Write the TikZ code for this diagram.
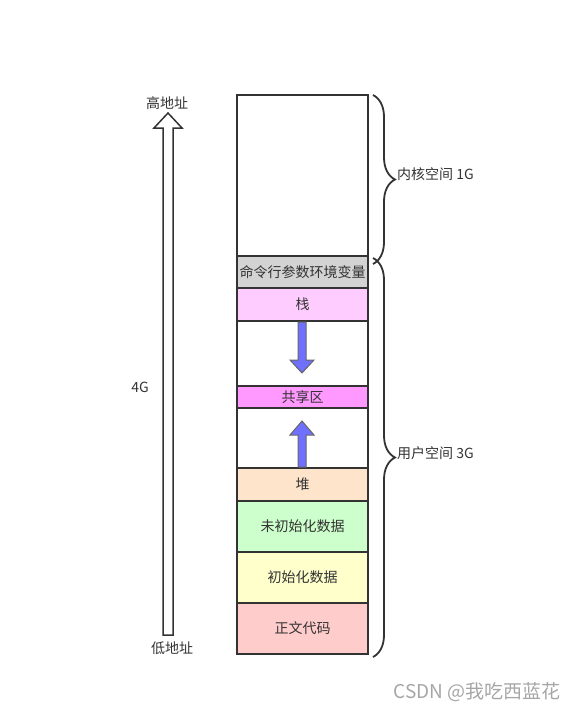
\documentclass[tikz,border=0pt]{standalone}
\usepackage{fontspec}
\setmainfont{Noto Sans CJK SC}
\usetikzlibrary{decorations.pathreplacing}

\definecolor{envgray}{HTML}{D3D3D3}
\definecolor{stackpink}{HTML}{FFCCFF}
\definecolor{sharepink}{HTML}{FF99FF}
\definecolor{heappeach}{HTML}{FFE4CC}
\definecolor{bssgreen}{HTML}{CCFFCC}
\definecolor{datayellow}{HTML}{FFFFCC}
\definecolor{textred}{HTML}{FFCCCC}
\definecolor{growblue}{HTML}{7070FF}
\definecolor{edgegray}{HTML}{333333}

\begin{document}
\begin{tikzpicture}[x=1pt,y=-1pt,font=\fontsize{14}{16}\selectfont,
  					seg/.style={draw=edgegray, line width=1.5, anchor=north, minimum width=131, inner sep=0, outer sep=0, text=edgegray},
  					growarrow/.style={draw=gray!80!black, line width=1, fill=growblue},
  					spanbrace/.style={draw=edgegray, line width=1.8, decorate, decoration={brace,amplitude=22}},
  					lbl/.style={text=edgegray, inner sep=0}
					]
	\useasboundingbox (0,0) rectangle (573,712);

	%address arrow
	\draw[line width=1.5, draw=edgegray, fill=white] (163,635) -- (173,635) -- (173,128) -- (182,128) -- (168,113) -- (154,128) -- (163,128) -- cycle; %big arrow
	\node[lbl] (high) at (167,103) {高地址}; %high label
	\node[lbl] (four) at (140,387) {4G}; %4G label
	\node[lbl] (low) at (172,648) {低地址}; %low label

	%memory column
	\node[seg, minimum height=161] (kernel) at (302.5,95) {}; %kernel space
	\node[seg, minimum height=32, fill=envgray] (env) at (302.5,256) {命令行参数环境变量}; %args + env
	\node[seg, minimum height=33, fill=stackpink] (stack) at (302.5,288) {栈}; %stack
	\node[seg, minimum height=65] (gapa) at (302.5,321) {}; %free 1
	\node[seg, minimum height=22, fill=sharepink] (share) at (302.5,386) {共享区}; %shared
	\node[seg, minimum height=60] (gapb) at (302.5,408) {}; %free 2
	\node[seg, minimum height=33, fill=heappeach] (heap) at (302.5,468) {堆}; %heap
	\node[seg, minimum height=51, fill=bssgreen] (bss) at (302.5,501) {未初始化数据}; %bss
	\node[seg, minimum height=51, fill=datayellow] (data) at (302.5,552) {初始化数据}; %data
	\node[seg, minimum height=51, fill=textred] (text) at (302.5,603) {正文代码}; %text

	%growth arrows
	\draw[growarrow] (298,322) -- (306,322) -- (306,360) -- (314,360) -- (302,373) -- (290,360) -- (298,360) -- cycle; %stack down
	\draw[growarrow] (298,467) -- (306,467) -- (306,435) -- (314,435) -- (302,421) -- (290,435) -- (298,435) -- cycle; %heap up

	%braces
	\draw[spanbrace] ([xshift=5]kernel.north east) coordinate (ka) -- ([xshift=5,yshift=-8]kernel.south east) coordinate (kb); %kernel brace
	\node[lbl, anchor=west] (klbl) at (397,174) {内核空间 1G}; %kernel label
	\draw[spanbrace] ([xshift=5,yshift=-2]env.north east) coordinate (ua) -- ([xshift=5,yshift=-3]text.south east) coordinate (ub); %user brace
	\node[lbl, anchor=west] (ulbl) at (397,453) {用户空间 3G}; %user label

	%watermark
	\node[lbl, text=gray!70, anchor=east, font=\fontsize{19}{21}\selectfont] (mark) at (561,692) {CSDN @我吃西蓝花};
\end{tikzpicture}
\end{document}
